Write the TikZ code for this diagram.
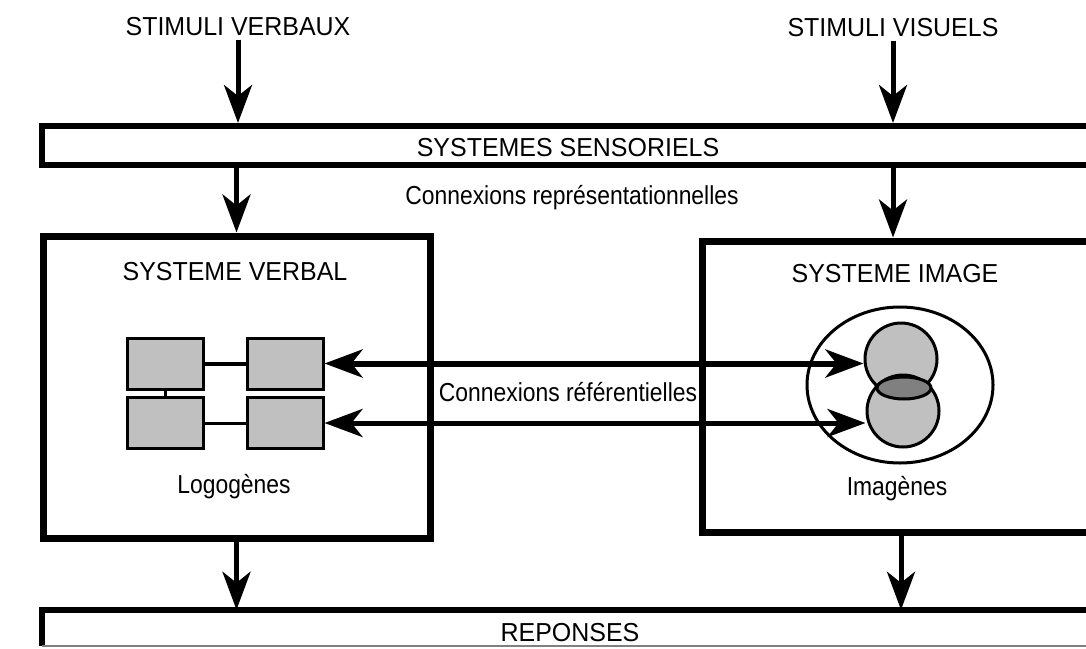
\documentclass[tikz,border=0pt]{standalone}
\usepackage{fontspec}
\setmainfont{Liberation Sans}[FakeStretch=0.88]
\newfontfamily\capsfont{Liberation Sans}[FakeStretch=0.96]
\usepackage{tikz}
\usetikzlibrary{arrows.meta, shapes.geometric}
\definecolor{boxgrey}{RGB}{192, 192, 192}
\definecolor{lensgrey}{RGB}{128, 128, 128}

\begin{document}
\begin{tikzpicture}[x=1pt, y=-1pt,
  font=\fontsize{26}{30}\selectfont,
  bigarrow/.style={-{Stealth[length=38pt, width=28pt, inset=11pt]}, line width=5pt},
  twoarrow/.style={{Stealth[length=38pt, width=28pt, inset=11pt]}-{Stealth[length=38pt, width=28pt, inset=11pt]}, line width=6pt},
  bar/.style={draw, line width=6pt, inner sep=0pt},
  system/.style={draw, line width=7pt, inner sep=0pt},
  logo/.style={draw, fill=boxgrey, line width=3pt, minimum width=76pt, minimum height=51pt, inner sep=0pt},
  ima/.style={draw, circle, fill=boxgrey, line width=3pt, minimum size=72pt, inner sep=0pt}
]
  \useasboundingbox (0, 0) rectangle (1086, 648);

  \node[] (stimverb) at (238, 27) {\capsfont STIMULI VERBAUX};
  \node[] (stimvis) at (893, 28) {\capsfont STIMULI VISUELS};

  \node[bar, minimum width=1052pt, minimum height=39pt] (sens) at (568, 145.5) {};
  \node[] (senstxt) at (568, 148) {\capsfont SYSTEMES SENSORIELS};
  \node[] (reprtxt) at (572, 198) {Connexions représentationnelles};

  \node[system, minimum width=387pt, minimum height=302pt] (vbox) at (236.5, 387) {};
  \node[system, minimum width=398pt, minimum height=291pt] (ibox) at (901, 386.5) {};
  \node[] (vtitle) at (235, 272) {\capsfont SYSTEME VERBAL};
  \node[] (ititle) at (895, 274) {\capsfont SYSTEME IMAGE};

  % logogenes
  \node[logo] (lg1) at (165, 363.5) {};
  \node[logo] (lg2) at (285, 363.5) {};
  \node[logo] (lg3) at (165, 423) {};
  \node[logo] (lg4) at (285, 423) {};
  \draw[line width=4pt] (lg1) -- (lg2);
  \draw[line width=3pt] (lg3) -- (lg4);
  \draw[line width=3pt] (lg1) -- (lg3);
  \node[] (logtxt) at (234, 487) {Logogènes};

  % imagenes
  \node[draw, ellipse, line width=3pt, minimum width=186pt, minimum height=156pt] (imgs) at (900, 385) {};
  \node[ima] (im1) at (901, 359) {};
  \node[ima] (im2) at (903, 411) {};
  \node[draw, ellipse, fill=lensgrey, line width=3pt, minimum width=54pt, minimum height=22pt, inner sep=0pt] (lens) at (904, 388) {};
  \node[] (imtxt) at (897, 489) {Imagènes};

  \draw[twoarrow] (lg2.east) -- (lg2.east -| im1.west);
  \draw[twoarrow, line width=5pt] (lg4.east) -- (lg4.east -| im2.west);
  \node[] (reftxt) at (568, 392) {Connexions référentielles};

  \node[minimum width=1058pt, minimum height=36pt, inner sep=0pt] (rep) at (571, 628) {};
  \draw[line width=6pt] (rep.south west) -- (rep.north west) -- (rep.north east);
  \draw[gray, line width=1.5pt] (rep.south west) -- (rep.south east);
  \node[] (reptxt) at (570, 633) {\capsfont REPONSES};

  \draw[bigarrow] (stimverb.south) -- (stimverb.south |- sens.north);
  \draw[bigarrow] (stimvis.south) -- (stimvis.south |- sens.north);
  \draw[bigarrow] (sens.south -| vbox.north) -- (vbox.north);
  \draw[bigarrow] (sens.south -| stimvis) -- (stimvis |- ibox.north);
  \draw[bigarrow] (vbox.south) -- (vbox.south |- rep.north);
  \draw[bigarrow] (ibox.south) -- (ibox.south |- rep.north);
\end{tikzpicture}
\end{document}
